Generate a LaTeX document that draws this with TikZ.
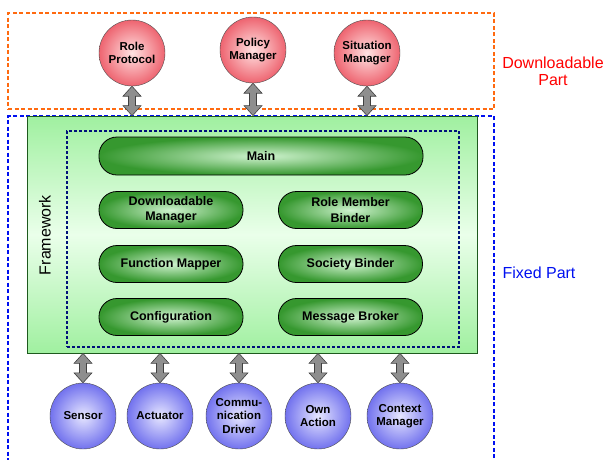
\documentclass[tikz,border=0pt]{standalone}
\usepackage{fontspec}
\setmainfont{Liberation Sans}
\usetikzlibrary{calc}

\definecolor{dlorange}{HTML}{FF6A10}
\definecolor{fxblue}{HTML}{0010F0}
\definecolor{corenavy}{HTML}{00107A}
\definecolor{fwgreen}{HTML}{A0F0A0}
\definecolor{fwlight}{HTML}{EAFFEA}
\definecolor{fwedge}{HTML}{1E5A1E}
\definecolor{pillout}{HTML}{36982F}
\definecolor{pillin}{HTML}{CFF3CF}
\definecolor{redout}{HTML}{EE6470}
\definecolor{redin}{HTML}{FFE2E2}
\definecolor{blueout}{HTML}{7272EE}
\definecolor{bluein}{HTML}{E6E6FF}
\definecolor{linkgray}{HTML}{8E8E8E}

% double block arrow between two points (upper first)
\newcommand{\biarrow}[2]{%
  \path[link] let \p1=(#1), \p2=(#2) in
    (\x1,\y1) -- ++(9pt,-10pt) -- ++(-5.5pt,0pt) -- (\x1+3.5pt,\y2+10pt)
    -- ++(5.5pt,0pt) -- (\x1,\y2) -- ++(-9pt,10pt) -- ++(5.5pt,0pt)
    -- (\x1-3.5pt,\y1-10pt) -- ++(-5.5pt,0pt) -- cycle;}

\begin{document}
\begin{tikzpicture}[x=1pt,y=-1pt,
  part/.style={line width=1.8pt,dash pattern=on 4pt off 2.5pt},
  comp/.style={draw=black,line width=0.8pt,rounded corners=18pt,
    minimum width=144pt,minimum height=37pt,inner sep=0pt,align=center,
    shading=radial,inner color=pillin,outer color=pillout,
    font=\bfseries\fontsize{12.5}{15.5}\selectfont},
  dlcomp/.style={circle,draw=black!70,minimum size=66pt,inner sep=0pt,
    align=center,shading=radial,inner color=redin,outer color=redout,
    font=\bfseries\fontsize{11.5}{13.5}\selectfont},
  fxcomp/.style={dlcomp,inner color=bluein,outer color=blueout},
  link/.style={draw=black!75,fill=linkgray,line width=0.6pt,line join=miter}]
\useasboundingbox (0,0) rectangle (606,459);

% parts
\node[draw=dlorange,part,minimum width=486pt,minimum height=96pt,inner sep=0pt] (dl) at (251,61) {};
\node[draw=fxblue,part,minimum width=486pt,minimum height=350pt,inner sep=0pt] (fx) at (251,291) {};
\node[text=red,align=center,font=\fontsize{16}{17}\selectfont] (dllabel) at (553,71) {Downloadable\\Part};
\node[text=fxblue,font=\fontsize{16}{17}\selectfont] (fxlabel) at (539,273) {Fixed Part};

% framework
\node[draw=fwedge,line width=0.8pt,top color=fwgreen,bottom color=fwgreen,middle color=fwlight,
  minimum width=450pt,minimum height=237pt,inner sep=0pt] (fw) at (252,234.5) {};
\node[draw=corenavy,line width=2pt,dash pattern=on 3pt off 2pt,
  minimum width=392pt,minimum height=216pt,inner sep=0pt] (core) at (263,239) {};
\node[rotate=90,font=\fontsize{16}{17}\selectfont] (fwlabel) at (45,235) {Framework};

\node[comp,minimum width=324pt,minimum height=38pt] (main) at (261,156) {Main};
\node[comp] (dm) at (171,210) {Downloadable\\Manager};
\node[comp] (rmb) at (350.5,210) {Role Member\\Binder};
\node[comp] (fm) at (171,264) {Function Mapper};
\node[comp] (sb) at (350.5,264) {Society Binder};
\node[comp] (cf) at (171,317) {Configuration};
\node[comp] (mb) at (350.5,317) {Message Broker};

% downloadable components
\node[dlcomp] (rp) at (132,53) {Role\\Protocol};
\node[dlcomp] (pm) at (253,50) {Policy\\Manager};
\node[dlcomp] (sm) at (367,53) {Situation\\Manager};

% fixed components
\node[fxcomp] (sn) at (83,416) {Sensor};
\node[fxcomp] (ac) at (160,416) {Actuator};
\node[fxcomp] (cd) at (239,416) {Commu-\\nication\\Driver};
\node[fxcomp] (oa) at (318,416) {Own\\Action};
\node[fxcomp] (cm) at (400,416) {Context\\Manager};

\biarrow{rp.south}{rp.south |- fw.north}
\biarrow{pm.south}{pm.south |- fw.north}
\biarrow{sm.south}{sm.south |- fw.north}
\biarrow{fw.south -| sn}{sn.north}
\biarrow{fw.south -| ac}{ac.north}
\biarrow{fw.south -| cd}{cd.north}
\biarrow{fw.south -| oa}{oa.north}
\biarrow{fw.south -| cm}{cm.north}
\end{tikzpicture}
\end{document}
